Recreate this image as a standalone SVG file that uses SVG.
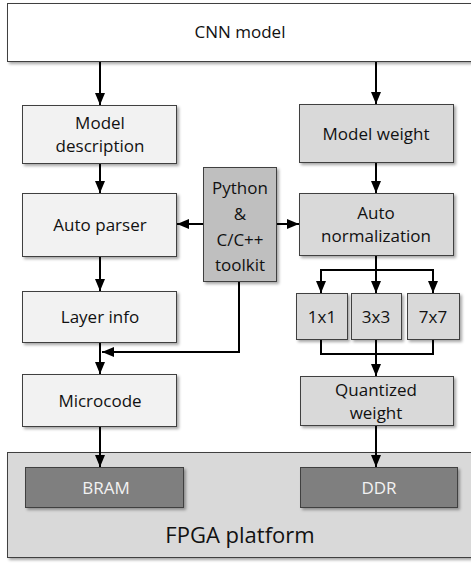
<svg xmlns="http://www.w3.org/2000/svg" width="471" height="563" viewBox="0 0 471 563">
<defs>
<filter id="sh" x="-10%" y="-10%" width="130%" height="130%">
<feDropShadow dx="2" dy="2" stdDeviation="1.5" flood-color="#000" flood-opacity="0.35"/>
</filter>
<marker id="ah" viewBox="0 0 12 10" refX="12" refY="5" markerWidth="12" markerHeight="10" markerUnits="userSpaceOnUse" orient="auto">
<path d="M0,0 L12,5 L0,10 Z" fill="#000"/>
</marker>
<style>
rect{stroke:#404040;stroke-width:1;filter:url(#sh)}
.l{fill:#f2f2f2}.m{fill:#d9d9d9}.p{fill:#bfbfbf}.d{fill:#7f7f7f}.w{fill:#fff}
text{font-family:"Open Sans","Noto Sans",sans-serif;font-size:17px;fill:#111;text-anchor:middle;dominant-baseline:central}
.t{fill:#f2f2f2}
.c{fill:none;stroke:#000;stroke-width:2}
.a{marker-end:url(#ah)}
</style>
</defs>
<g id="fpga"><rect class="m" x="7.5" y="452.5" width="475" height="105"/><text x="240" y="534" style="font-size:22px">FPGA platform</text></g>
<g id="cnn"><rect class="w" x="7.5" y="3.5" width="475" height="58"/><text x="240" y="31">CNN model</text></g>
<g id="desc"><rect class="l" x="22.5" y="105.5" width="154" height="58"/><text x="100" y="122">Model</text><text x="100" y="145">description</text></g>
<g id="weight"><rect class="m" x="299.5" y="104.5" width="154" height="58"/><text x="376" y="133">Model weight</text></g>
<g id="parser"><rect class="l" x="22.5" y="193.5" width="154" height="63"/><text x="100" y="224">Auto parser</text></g>
<g id="toolkit"><rect class="p" x="203.5" y="167.5" width="73" height="114"/><text x="240" y="187">Python</text><text x="240" y="213">&amp;</text><text x="240" y="239">C/C++</text><text x="240" y="264">toolkit</text></g>
<g id="norm"><rect class="m" x="299.5" y="193.5" width="154" height="62"/><text x="376" y="212">Auto</text><text x="376" y="235">normalization</text></g>
<g id="layer"><rect class="l" x="22.5" y="291.5" width="154" height="51"/><text x="100" y="316">Layer info</text></g>
<g id="k1"><rect class="m" x="296.5" y="293.5" width="51" height="46"/><text x="322" y="316">1x1</text></g>
<g id="k3"><rect class="m" x="351.5" y="293.5" width="50" height="46"/><text x="376" y="316">3x3</text></g>
<g id="k7"><rect class="m" x="407.5" y="293.5" width="52" height="46"/><text x="433" y="316">7x7</text></g>
<g id="micro"><rect class="l" x="22.5" y="374.5" width="154" height="52"/><text x="100" y="400">Microcode</text></g>
<g id="quant"><rect class="m" x="300.5" y="376.5" width="153" height="49"/><text x="376" y="389">Quantized</text><text x="376" y="412">weight</text></g>
<g id="bram"><rect class="d" x="25.5" y="467.5" width="158" height="40"/><text class="t" x="106" y="487">BRAM</text></g>
<g id="ddr"><rect class="d" x="300.5" y="467.5" width="157" height="40"/><text class="t" x="379" y="487">DDR</text></g>
<g id="connectors">
<line class="c a" x1="100" y1="62" x2="100" y2="105"/>
<line class="c a" x1="376" y1="62" x2="376" y2="104"/>
<line class="c a" x1="100" y1="164" x2="100" y2="193"/>
<line class="c a" x1="376" y1="163" x2="376" y2="193"/>
<line class="c a" x1="203" y1="224" x2="177" y2="224"/>
<line class="c a" x1="277" y1="224" x2="299" y2="224"/>
<line class="c a" x1="100" y1="257" x2="100" y2="291"/>
<polyline class="c a" points="239,282 239,352 102,352"/>
<line class="c a" x1="100" y1="343" x2="100" y2="374"/>
<line class="c a" x1="100" y1="427" x2="100" y2="467"/>
<line class="c" x1="376" y1="256" x2="376" y2="270"/>
<polyline class="c a" points="321,293 321,270 433,270 433,293"/>
<line class="c a" x1="376" y1="270" x2="376" y2="293"/>
<polyline class="c" points="321,340 321,354 433,354 433,340"/>
<line class="c a" x1="376" y1="340" x2="376" y2="376"/>
<line class="c a" x1="376" y1="426" x2="376" y2="467"/>
<line class="c a" x1="321" y1="272" x2="321" y2="293"/>
</g>
</svg>
